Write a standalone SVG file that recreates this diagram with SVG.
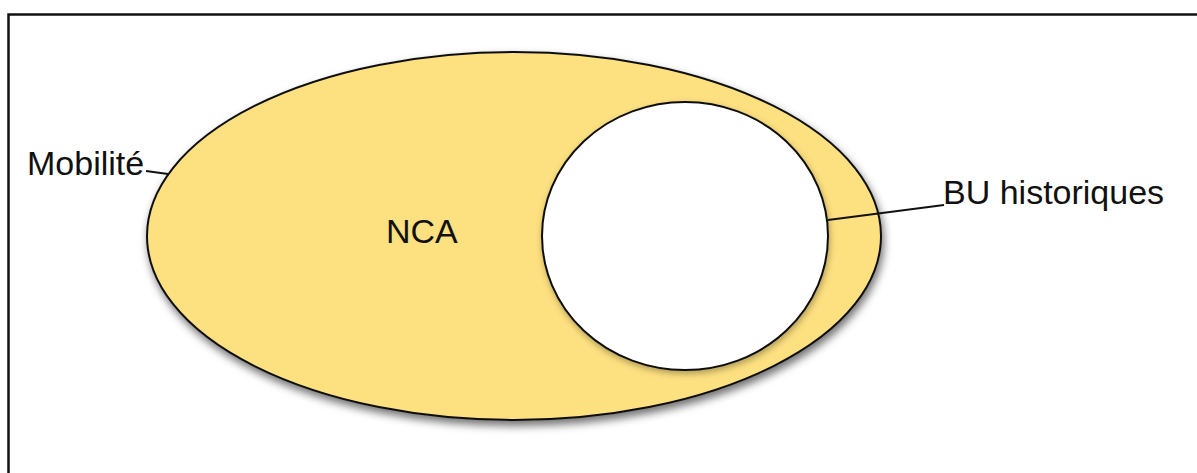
<svg xmlns="http://www.w3.org/2000/svg" width="1197" height="473" viewBox="0 0 1197 473">
  <defs>
    <filter id="shadow" x="-10%" y="-10%" width="120%" height="130%">
      <feDropShadow dx="2" dy="5" stdDeviation="4" flood-color="#000" flood-opacity="0.55"/>
    </filter>
    <filter id="shadow2" x="-10%" y="-10%" width="120%" height="130%">
      <feDropShadow dx="1" dy="3" stdDeviation="3" flood-color="#000" flood-opacity="0.3"/>
    </filter>
  </defs>
  <style>
    .lbl { font-family: "Liberation Sans", Arial, sans-serif; font-size: 34px; fill: #111; }
    .edge { stroke: #111; stroke-width: 2; fill: none; }
    .shape { stroke: #111; stroke-width: 2; }
  </style>
  <rect width="1197" height="473" fill="#fff"/>
  <path d="M8.5,473 V14.5 H1197" fill="none" stroke="#111" stroke-width="2.5"/>
  <g id="mobilite">
    <ellipse class="shape" cx="514" cy="236" rx="367" ry="184" fill="#FDE07F" filter="url(#shadow)"/>
    <text class="lbl" x="27" y="175">Mobilité</text>
  </g>
  <g id="nca">
    <text class="lbl" x="386" y="243">NCA</text>
  </g>
  <g id="bu-historiques">
    <ellipse class="shape" cx="685" cy="236" rx="143" ry="134" fill="#fff" filter="url(#shadow2)"/>
    <text class="lbl" x="943" y="204">BU historiques</text>
  </g>
  <g id="connectors">
    <line class="edge" x1="146" y1="171" x2="168" y2="174"/>
    <line class="edge" x1="944" y1="205" x2="828" y2="220"/>
  </g>
</svg>
